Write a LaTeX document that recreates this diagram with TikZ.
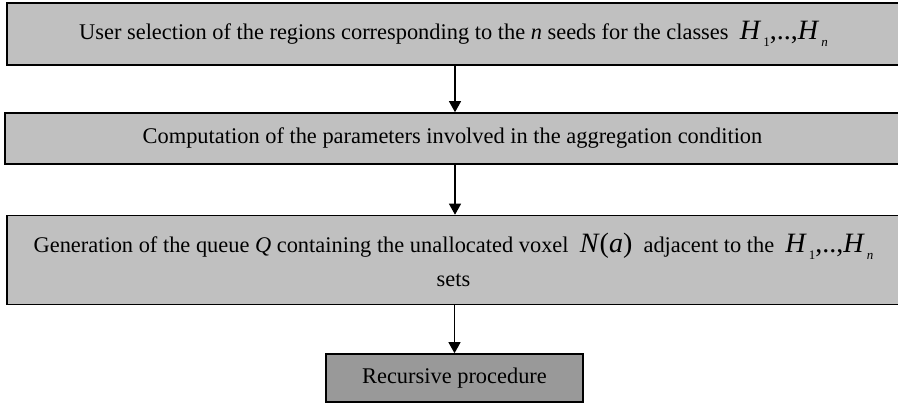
\documentclass[tikz,border=0pt]{standalone}
\usepackage{fontspec}
\setmainfont{Liberation Serif}
\usetikzlibrary{arrows.meta,positioning,calc}
\definecolor{boxgray}{HTML}{C0C0C0}
\definecolor{procgray}{HTML}{999999}
\newcommand{\mathbig}{\fontsize{14}{16}\selectfont}
\newcommand{\Hsub}[1]{\kern1pt\raisebox{-3.2pt}{\fontsize{6.5}{7}\selectfont #1}}
\newcommand{\Hclasses}{{\mathbig\textit{H}\Hsub{1},..,\textit{H}\Hsub{\textit{n}}}}
\tikzset{
  flowbox/.style={draw, line width=0.8pt, fill=boxgray, align=center,
    font=\fontsize{11.2}{13}\selectfont, inner sep=0pt},
  procbox/.style={flowbox, fill=procgray},
  arr/.style={-{Triangle[length=5.5pt,width=6pt]}, line width=0.6pt}
}
\begin{document}
\begin{tikzpicture}[x=0.5pt,y=-0.5pt]
  \useasboundingbox (0,0) rectangle (898,412);
  % steps of the region growing
  \node[flowbox, minimum width=446.5pt, minimum height=31pt] (sel) at (453.5,34)
    {User selection of the regions corresponding to the \textit{n} seeds for the classes \ \Hclasses};
  \node[flowbox, minimum width=447.5pt, minimum height=25.5pt] (par) at (452.5,138.5)
    {Computation of the parameters involved in the aggregation condition};
  \node[flowbox, minimum width=446.5pt, minimum height=44.5pt] (que) at (453.5,260)
    {Generation of the queue \textit{Q} containing the unallocated voxel \ {\mathbig\textit{N}(\textit{a})} \ adjacent to the \ \Hclasses\\[4pt]
     sets};
  \node[procbox, minimum width=128.5pt, minimum height=24pt] (rec) at (454.5,378)
    {Recursive procedure};
  \draw[arr] ($(sel.south)+(1.5,0)$) -- ($(sel.south |- par.north)+(1.5,0)$);
  \draw[arr] ($(par.south)+(2.5,0)$) -- ($(par.south |- que.north)+(2.5,0)$);
  \draw[arr] (que.south -| rec.north) -- (rec.north);
\end{tikzpicture}
\end{document}
